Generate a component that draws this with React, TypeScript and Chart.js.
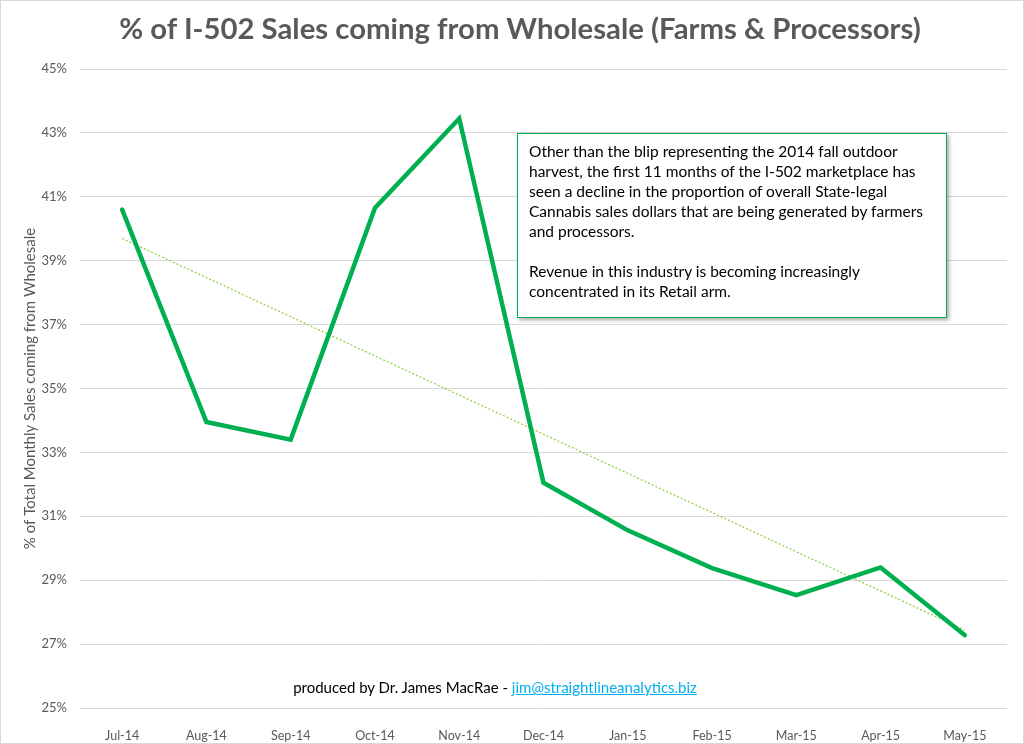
import React, { useEffect, useRef } from "react";
import { Chart, registerables } from "chart.js";

Chart.register(...registerables);

const TITLE = "% of I-502 Sales coming from Wholesale (Farms & Processors)";
const Y_TITLE = "% of Total Monthly Sales coming from Wholesale";
const MONTHS = ["Jul-14", "Aug-14", "Sep-14", "Oct-14", "Nov-14", "Dec-14", "Jan-15", "Feb-15", "Mar-15", "Apr-15", "May-15"];
const WHOLESALE_PCT = [40.6, 33.95, 33.4, 40.65, 43.45, 32.05, 30.56, 29.38, 28.53, 29.4, 27.28];
const Y_MIN = 25;
const Y_MAX = 45;
const Y_STEP = 2;
const NOTE_LINES_1 = [
  "Other than the blip representing the 2014 fall outdoor",
  "harvest, the first 11 months of the I-502 marketplace has",
  "seen a decline in the proportion of overall State-legal",
  "Cannabis sales dollars that are being generated by farmers",
  "and processors.",
];
const NOTE_LINES_2 = ["Revenue in this industry is becoming increasingly", "concentrated in its Retail arm."];
const CREDIT = "produced by Dr. James MacRae - ";
const EMAIL = "jim@straightlineanalytics.biz";

function linearTrend(values: number[]): number[] {
  const n = values.length;
  const mx = (n - 1) / 2;
  const my = values.reduce((a, b) => a + b, 0) / n;
  let num = 0;
  let den = 0;
  values.forEach((v, i) => {
    num += (i - mx) * (v - my);
    den += (i - mx) * (i - mx);
  });
  const slope = num / den;
  return values.map((_, i) => my + slope * (i - mx));
}

const FONT = "Lato, 'Open Sans', sans-serif";
const GREY = "#595959";

export default function App() {
  const ref = useRef<HTMLCanvasElement>(null);
  useEffect(() => {
    if (!ref.current) return;
    const chart = new Chart(ref.current, {
      type: "line",
      data: {
        labels: MONTHS,
        datasets: [
          {
            label: "Wholesale share",
            data: WHOLESALE_PCT,
            borderColor: "#00b050",
            backgroundColor: "#00b050",
            borderWidth: 4.5,
            pointRadius: 0,
            tension: 0,
            borderCapStyle: "round",
            borderJoinStyle: "miter",
            order: 1,
          },
          {
            label: "Linear trend",
            data: linearTrend(WHOLESALE_PCT),
            borderColor: "#92d050",
            borderWidth: 1.3,
            borderDash: [2, 2],
            pointRadius: 0,
            tension: 0,
            order: 2,
          },
        ],
      },
      options: {
        animation: false,
        responsive: false,
        maintainAspectRatio: false,
        layout: { padding: { left: 0, right: 17, top: 69, bottom: 0 } },
        plugins: {
          legend: { display: false },
          tooltip: { enabled: false },
          title: { display: false },
        },
        scales: {
          x: {
            offset: true,
            grid: { display: false },
            border: { display: false },
            ticks: { color: GREY, font: { family: FONT, size: 12.5 }, padding: 12, maxRotation: 0 },
            afterFit: (s: any) => {
              s.height = 36;
            },
          },
          y: {
            min: Y_MIN,
            max: Y_MAX,
            grid: { color: "#d9d9d9", lineWidth: 1, drawTicks: false },
            border: { display: false },
            ticks: {
              stepSize: Y_STEP,
              color: GREY,
              font: { family: FONT, size: 13 },
              padding: 13,
              callback: (v: any) => v + "%",
            },
            title: {
              display: true,
              text: Y_TITLE,
              color: GREY,
              font: { family: FONT, size: 15 },
              padding: { top: 21, bottom: 0 },
            },
            afterFit: (s: any) => {
              s.width = 80;
            },
          },
        },
      },
    });
    return () => chart.destroy();
  }, []);

  return (
    <div style={{ position: "fixed", left: 0, top: 0, width: 1024, height: 744, background: "#fff" }}>
      <canvas ref={ref} width={1024} height={744} style={{ position: "absolute", left: 0, top: 0 }} />
      <div
        style={{
          position: "absolute",
          left: 20,
          width: 1000,
          top: 10,
          textAlign: "center",
          fontFamily: FONT,
          fontSize: 29.3,
          fontWeight: "bold",
          lineHeight: "36px",
          color: GREY,
          whiteSpace: "nowrap",
        }}
      >
        {TITLE}
      </div>
      <div
        style={{
          position: "absolute",
          left: 517,
          top: 133,
          width: 430,
          height: 185,
          boxSizing: "border-box",
          border: "1.5px solid #00b050",
          background: "#fff",
          boxShadow: "2px 2px 4px rgba(0,0,0,0.35)",
          padding: "7px 11px",
          fontFamily: FONT,
          fontSize: 15.5,
          lineHeight: "20px",
          color: "#000",
        }}
      >
        {NOTE_LINES_1.map((l, i) => (
          <div key={"a" + i} style={{ whiteSpace: "nowrap" }}>{l}</div>
        ))}
        <div style={{ height: 20 }} />
        {NOTE_LINES_2.map((l, i) => (
          <div key={"b" + i} style={{ whiteSpace: "nowrap" }}>{l}</div>
        ))}
      </div>
      <div
        style={{
          position: "absolute",
          left: 0,
          width: 990,
          top: 678,
          textAlign: "center",
          fontFamily: FONT,
          fontSize: 15,
          color: "#000",
          whiteSpace: "nowrap",
        }}
      >
        {CREDIT}
        <a href={"mailto:" + EMAIL} style={{ color: "#00b0f0", textDecoration: "underline" }}>{EMAIL}</a>
      </div>
      <div
        style={{
          position: "absolute",
          left: 0,
          top: 0,
          width: 1024,
          height: 744,
          boxSizing: "border-box",
          border: "1px solid #d9d9d9",
          pointerEvents: "none",
        }}
      />
    </div>
  );
}
